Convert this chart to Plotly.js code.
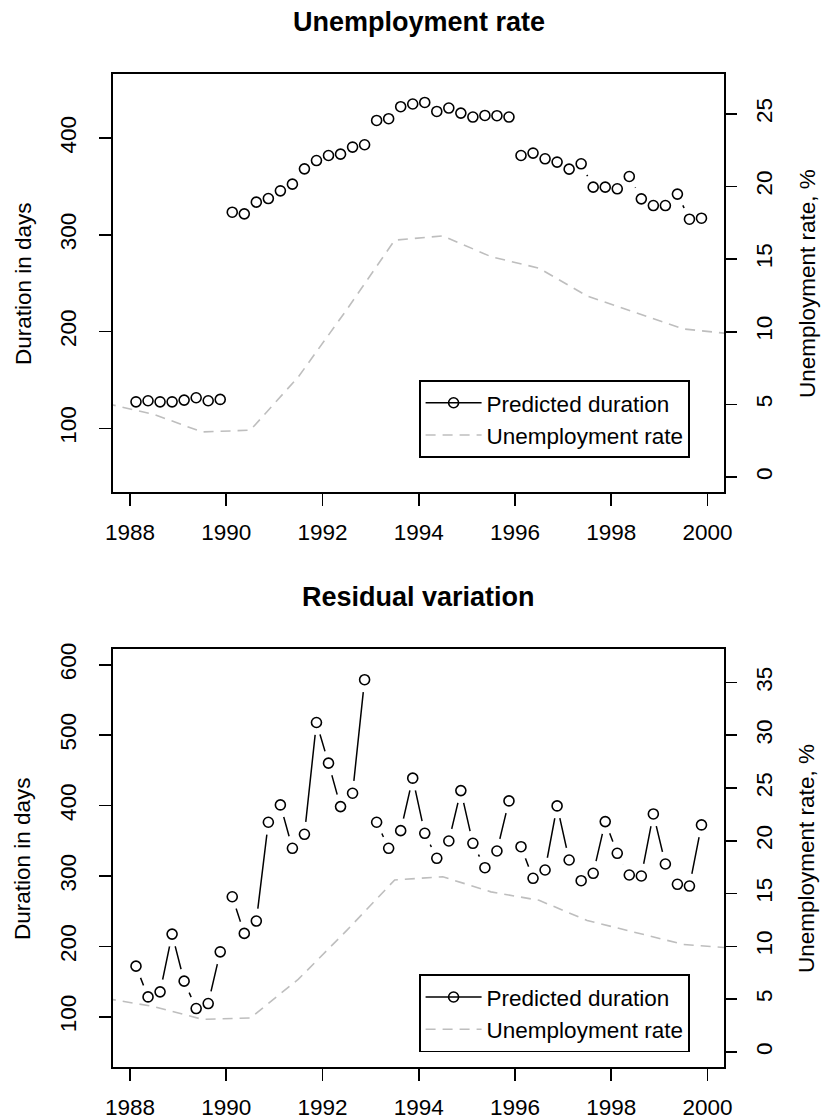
<!DOCTYPE html>
<html><head><meta charset="utf-8">
<script src="https://cdn.plot.ly/plotly-3.0.1.min.js"></script>
<style>html,body{margin:0;padding:0;background:#fff}</style>
</head><body><div id="chart" style="width:823px;height:1120px"></div>
<script>
// ---- data ----
const quarters = [1988.125,1988.375,1988.625,1988.875,1989.125,1989.375,1989.625,1989.875,
  1990.125,1990.375,1990.625,1990.875,1991.125,1991.375,1991.625,1991.875,
  1992.125,1992.375,1992.625,1992.875,1993.125,1993.375,1993.625,1993.875,
  1994.125,1994.375,1994.625,1994.875,1995.125,1995.375,1995.625,1995.875,
  1996.125,1996.375,1996.625,1996.875,1997.125,1997.375,1997.625,1997.875,
  1998.125,1998.375,1998.625,1998.875,1999.125,1999.375,1999.625,1999.875];
const predictedUnemp = [127.5,128.6,127.5,127.5,129.3,131.7,128.6,130.0,
  323.4,321.7,333.8,337.5,345.5,352.4,368.2,376.8,382.0,383.4,390.7,393.1,
  418.2,420.0,432.4,435.2,436.8,427.5,431.0,425.8,421.7,423.4,423.1,421.7,
  382.0,384.5,378.6,375.2,367.9,373.4,349.3,349.3,347.6,360.3,337.2,330.3,330.3,342.1,316.2,317.2];
const predictedResid = [172.1,128.4,135.6,217.6,150.8,111.9,119.0,192.4,
  270.6,218.6,236.1,376.4,401.0,339.4,359.3,518.0,460.3,398.6,417.6,578.8,
  376.4,339.4,364.5,439.0,360.7,325.2,349.8,421.3,346.5,311.9,335.6,406.7,
  341.7,296.8,308.6,399.6,322.8,293.4,303.9,377.3,332.3,301.5,300.1,388.2,317.1,288.3,285.8,372.6];
const periodBreaks = [1990, 1993, 1996];
const unempYears = [1987.5,1988.5,1989.5,1990.5,1991.5,1992.5,1993.5,1994.5,1995.5,1996.5,1997.5,1998.5,1999.5,2000.5];
const unempRate  = [5.07,4.3,3.1,3.22,6.9,11.5,16.3,16.6,15.17,14.37,12.46,11.34,10.19,9.85];
const xTicks = [1988,1990,1992,1994,1996,1998,2000];
const durTicksTop = [100,200,300,400];
const rateTicksTop = [0,5,10,15,20,25];
const durTicksBottom = [100,200,300,400,500,600];
const rateTicksBottom = [0,5,10,15,20,25,30,35];
const panelTitles = ['Unemployment rate','Residual variation'];
const legendNames = ['Predicted duration','Unemployment rate'];
const yTitleLeft = 'Duration in days';
const yTitleRight = 'Unemployment rate, %';

// ---- helpers ----
function withBreaks(xs, ys){
  const bx=[], by=[]; let b=0;
  for(let i=0;i<xs.length;i++){
    while(b<periodBreaks.length && xs[i]>periodBreaks[b]){ if(i>0){bx.push(periodBreaks[b]); by.push(null);} b++; }
    bx.push(xs[i]); by.push(ys[i]);
  }
  return {x:bx,y:by};
}
const GREY = '#bebebe';
function panelTraces(ys, xa, ya, ya2, leg){
  const br = withBreaks(quarters, ys);
  return [
    {x:br.x, y:br.y, xaxis:xa, yaxis:ya, mode:'lines+markers', connectgaps:false,
     line:{color:'black', width:1.5}, marker:{symbol:'circle', size:25, color:'white', line:{width:0}},
     showlegend:false, hoverinfo:'skip'},
    {x:quarters, y:ys, xaxis:xa, yaxis:ya, mode:'markers',
     marker:{symbol:'circle-open', size:10, color:'black', line:{width:1.6}},
     showlegend:false, hoverinfo:'skip'},
    {x:[null], y:[null], xaxis:xa, yaxis:ya, mode:'lines+markers', name:legendNames[0], legend:leg,
     line:{color:'black', width:1.5}, marker:{symbol:'circle-open', size:10, color:'black', line:{width:1.6}}},
    {x:unempYears, y:unempRate, xaxis:xa, yaxis:ya2, mode:'lines', name:legendNames[1], legend:leg,
     line:{color:GREY, width:1.6, dash:'10px,7px'}, hoverinfo:'skip'}
  ];
}
const data = [].concat(
  panelTraces(predictedUnemp, 'x', 'y', 'y2', 'legend'),
  panelTraces(predictedResid, 'x2', 'y3', 'y4', 'legend2')
);

const axBase = {ticks:'outside', ticklen:12, tickwidth:1.6, tickcolor:'black',
  showgrid:false, zeroline:false, showline:true, linecolor:'black', linewidth:1.8,
  mirror:true, fixedrange:true, tickfont:{size:22.5}};
const xRange = [1987.647, 2000.343];
function leg(ytop){
  return {x:0.5008, y:ytop, xanchor:'left', yanchor:'top', bgcolor:'white',
    bordercolor:'black', borderwidth:1.6, font:{size:22.5}, itemwidth:56, traceorder:'normal'};
}
const layout = {
  width:823, height:1120,
  margin:{l:113, r:99, t:74, b:53, pad:0},
  paper_bgcolor:'white', plot_bgcolor:'white',
  font:{family:'Liberation Sans, Arial, Helvetica, sans-serif', size:22.5, color:'black'},
  showlegend:true,
  xaxis:Object.assign({}, axBase, {anchor:'y', domain:[0,1], range:xRange, tickvals:xTicks, ticklabelstandoff:7}),
  yaxis:Object.assign({}, axBase, {anchor:'x', domain:[0.5791,1], range:[34.4,466.2], tickvals:durTicksTop, tickangle:-90, ticklabelstandoff:14}),
  yaxis2:Object.assign({}, axBase, {anchor:'x', overlaying:'y', side:'right', range:[-1.03,27.74], tickvals:rateTicksTop, tickangle:-90, showline:false, mirror:false, ticklabelstandoff:8}),
  xaxis2:Object.assign({}, axBase, {anchor:'y3', domain:[0,1], range:xRange, tickvals:xTicks, ticklabelstandoff:7}),
  yaxis3:Object.assign({}, axBase, {anchor:'x2', domain:[0,0.4209], range:[28.9,622.3], tickvals:durTicksBottom, tickangle:-90, ticklabelstandoff:14}),
  yaxis4:Object.assign({}, axBase, {anchor:'x2', overlaying:'y3', side:'right', range:[-1.42,38.17], tickvals:rateTicksBottom, tickangle:-90, showline:false, mirror:false, ticklabelstandoff:8}),
  legend:leg(0.6918),
  legend2:leg(0.0934),
  annotations:[
    {text:'<b>'+panelTitles[0]+'</b>', xref:'paper', yref:'paper', x:0.5, y:1.0527, xanchor:'center', yanchor:'middle', showarrow:false, font:{size:27}},
    {text:'<b>'+panelTitles[1]+'</b>', xref:'paper', yref:'paper', x:0.5, y:0.4736, xanchor:'center', yanchor:'middle', showarrow:false, font:{size:27}},
    {text:yTitleLeft, xref:'paper', yref:'paper', x:-0.1473, y:0.7895, textangle:-90, xanchor:'center', yanchor:'middle', showarrow:false},
    {text:yTitleLeft, xref:'paper', yref:'paper', x:-0.1473, y:0.2105, textangle:-90, xanchor:'center', yanchor:'middle', showarrow:false},
    {text:yTitleRight, xref:'paper', yref:'paper', x:1.1358, y:0.7895, textangle:-90, xanchor:'center', yanchor:'middle', showarrow:false},
    {text:yTitleRight, xref:'paper', yref:'paper', x:1.1358, y:0.2105, textangle:-90, xanchor:'center', yanchor:'middle', showarrow:false}
  ]
};
Plotly.newPlot('chart', data, layout, {staticPlot:true, displayModeBar:false});
</script>
</body></html>
